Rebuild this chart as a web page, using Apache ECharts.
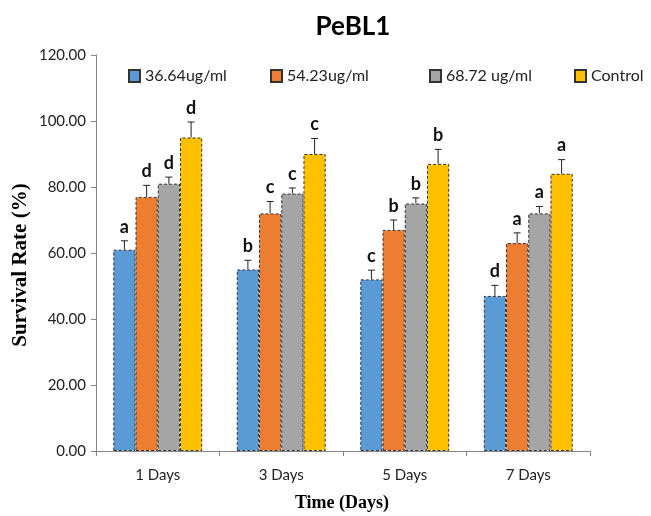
<!DOCTYPE html>
<html>
<head>
<meta charset="utf-8">
<script src="https://cdn.jsdelivr.net/npm/echarts@6/dist/echarts.min.js"></script>
<style>html,body{margin:0;padding:0;background:#fff;}#c{width:651px;height:516px;}</style>
</head>
<body>
<div id="c"></div>
<script>
const categories = ['1 Days', '3 Days', '5 Days', '7 Days'];
const seriesNames = ['36.64ug/ml', '54.23ug/ml', '68.72 ug/ml', 'Control'];
const vals36 = [61, 55, 52, 47];
const vals54 = [77, 72, 67, 63];
const vals68 = [81, 78, 75, 72];
const valsCtrl = [95, 90, 87, 84];
const err36 = [2.7, 2.8, 2.8, 3.2];
const err54 = [3.5, 3.6, 3.0, 3.1];
const err68 = [2.0, 1.7, 1.7, 2.1];
const errCtrl = [4.7, 4.7, 4.4, 4.3];
const lbl36 = ['a', 'b', 'c', 'd'];
const lbl54 = ['d', 'c', 'b', 'a'];
const lbl68 = ['d', 'c', 'b', 'a'];
const lblCtrl = ['d', 'c', 'b', 'a'];
const yTicks = [0, 20, 40, 60, 80, 100, 120];

const allVals = [vals36, vals54, vals68, valsCtrl];
const allErrs = [err36, err54, err68, errCtrl];
const allLbls = [lbl36, lbl54, lbl68, lblCtrl];
const colors = ['#5B9BD5', '#ED7D31', '#A5A5A5', '#FFC000'];
const gapRatio = 0.28;
const legendLeft = [123, 265, 424, 569];

const chart = echarts.init(document.getElementById('c'), null, {renderer: 'canvas'});

const barSeries = seriesNames.map((n, i) => ({
  type: 'bar',
  name: n,
  data: allVals[i],
  barGap: '0%',
  barCategoryGap: (gapRatio * 100) + '%',
  itemStyle: {color: colors[i], borderColor: '#333', borderWidth: 1, borderType: [3, 2]},
  z: 2
}));

const errSeries = seriesNames.map((n, si) => ({
  type: 'custom',
  z: 5,
  silent: true,
  data: allVals[si].map((v, i) => [i, v, allErrs[si][i]]),
  encode: {x: 0, y: 1},
  renderItem: function (params, api) {
    const cat = api.value(0), v = api.value(1), e = api.value(2);
    const base = api.coord([cat, v]);
    const top = api.coord([cat, v + e]);
    const band = api.size([1, 0])[0];
    const bw = band * (1 - gapRatio) / 4;
    const x = base[0] + (si - 1.5) * bw;
    return {
      type: 'group',
      children: [
        {type: 'line', shape: {x1: x, y1: base[1], x2: x, y2: top[1]}, style: {stroke: '#222', lineWidth: 1}},
        {type: 'line', shape: {x1: x - 3.5, y1: top[1], x2: x + 3.5, y2: top[1]}, style: {stroke: '#222', lineWidth: 1}},
        {type: 'text', x: x, y: top[1] - 5,
          style: {text: allLbls[si][params.dataIndex], fill: '#111', font: 'bold 18px Lato',
            align: 'center', verticalAlign: 'bottom', textAlign: 'center', textVerticalAlign: 'bottom'}}
      ]
    };
  }
}));

const option = {
  animation: false,
  backgroundColor: '#fff',
  title: {
    text: 'PeBL1', left: 348, top: 9, textAlign: 'center',
    textStyle: {fontFamily: 'Lato', fontWeight: 'bold', fontSize: 26, color: '#000'}
  },
  legend: seriesNames.map((n, i) => ({
    data: [n], left: legendLeft[i], top: 63, icon: 'rect',
    itemWidth: 11, itemHeight: 12, selectedMode: false,
    textStyle: {fontFamily: 'Lato', fontSize: 16, color: '#222'}
  })),
  grid: {left: 96, right: 61, top: 55, bottom: 65, containLabel: false},
  xAxis: {
    type: 'category', data: categories,
    axisLine: {lineStyle: {color: '#868686', width: 1}},
    axisTick: {show: true, length: 5, lineStyle: {color: '#868686'}},
    axisLabel: {margin: 17, fontFamily: 'Lato', fontSize: 15, color: '#222'}
  },
  yAxis: {
    type: 'value', min: yTicks[0], max: yTicks[yTicks.length - 1], interval: yTicks[1] - yTicks[0],
    axisLine: {show: true, lineStyle: {color: '#868686', width: 1}},
    axisTick: {show: true, length: 5, lineStyle: {color: '#868686'}},
    splitLine: {show: false},
    axisLabel: {margin: 10, fontFamily: 'Lato', fontSize: 15, color: '#222', formatter: v => v.toFixed(2)}
  },
  graphic: [
    {type: 'text', x: 342, y: 503,
      style: {text: 'Time (Days)', font: 'bold 18px "Liberation Serif"', fill: '#000', align: 'center', verticalAlign: 'middle', textAlign: 'center', textVerticalAlign: 'middle'}},
    {type: 'text', x: 21, y: 265, rotation: Math.PI / 2,
      style: {text: 'Survival Rate (%)', font: 'bold 21px "Liberation Serif"', fill: '#000', align: 'center', verticalAlign: 'middle', textAlign: 'center', textVerticalAlign: 'middle'}}
  ],
  series: barSeries.concat(errSeries)
};
chart.setOption(option);
</script>
</body>
</html>
